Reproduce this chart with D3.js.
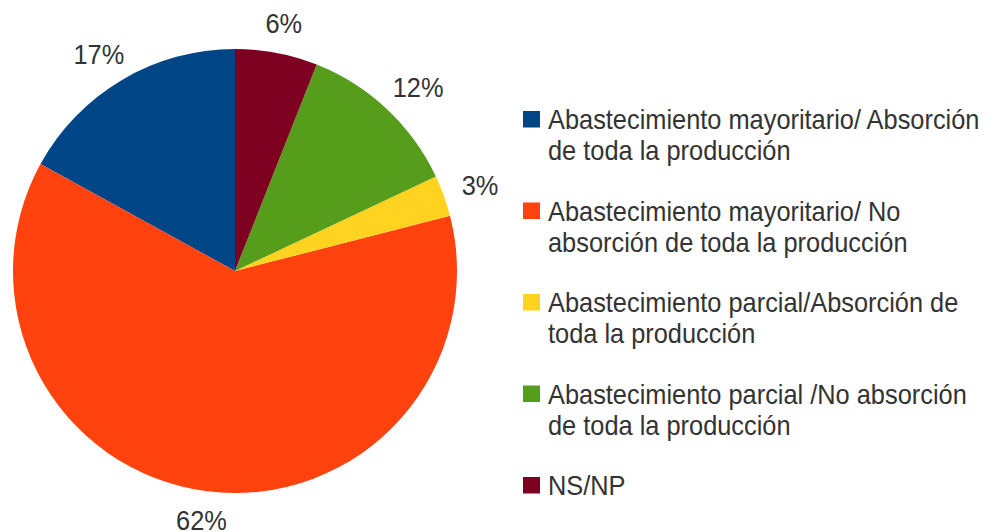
<!DOCTYPE html>
<html><head><meta charset="utf-8">
<script src="https://cdn.jsdelivr.net/npm/d3@7"></script>
<style>body{margin:0;background:#fff}svg{display:block}</style>
</head><body>
<svg id="chart" width="998" height="532"></svg>
<script>
const categories = [
  ["Abastecimiento mayoritario/ Absorción", "de toda la producción"],
  ["Abastecimiento mayoritario/ No", "absorción de toda la producción"],
  ["Abastecimiento parcial/Absorción de", "toda la producción"],
  ["Abastecimiento parcial /No absorción", "de toda la producción"],
  ["NS/NP"]
];
const values = [17, 62, 3, 12, 6];
const labels = ["17%", "62%", "3%", "12%", "6%"];
const colors = ["#004586", "#ff420e", "#ffd320", "#579d1c", "#7e0021"];

const svg = d3.select("#chart");
const cx = 235, cy = 271, R = 222;
const textColor = "#333333";
const font = "'Liberation Sans', Arial, sans-serif";
const fs = 27, sx = 0.94;

// Slices go counterclockwise from 12 o'clock
const pie = d3.pie().sort(null).value(d => d)
  .startAngle(0).endAngle(-2 * Math.PI);
const arcs = pie(values);
const arc = d3.arc().innerRadius(0).outerRadius(R);

const g = svg.append("g").attr("transform", `translate(${cx},${cy})`);
g.selectAll("path").data(arcs).enter().append("path")
  .attr("d", arc)
  .attr("fill", (d, i) => colors[i]);

// Percent labels outside, box pushed away from the pie
const labelArc = d3.arc().innerRadius(R + 20).outerRadius(R + 20);
arcs.forEach((d, i) => {
  const p = labelArc.centroid(d);
  const mid = (d.startAngle + d.endAngle) / 2;
  const lg = g.append("g");
  const t = lg.append("text")
    .attr("text-anchor", "middle")
    .attr("font-family", font)
    .attr("font-size", fs)
    .attr("fill", textColor)
    .text(labels[i]);
  const w = t.node().getComputedTextLength() * sx;
  const h = 0.72 * fs;
  const cxl = p[0] + (w / 2) * Math.sin(mid);
  const cyl = p[1] - (h / 2) * Math.cos(mid);
  lg.attr("transform", `translate(${cxl},${cyl + h / 2}) scale(${sx},1)`);
});

// Legend
const legY = d3.scaleLinear().domain([0, categories.length - 1]).range([111, 477]);
const leg = svg.append("g");
categories.forEach((lines, i) => {
  const y0 = legY(i);
  leg.append("rect").attr("x", 523).attr("y", y0).attr("width", 17).attr("height", 16.5)
    .attr("fill", colors[i]);
  lines.forEach((ln, j) => {
    leg.append("g")
      .attr("transform", `translate(548,${y0 + 18 + j * 31}) scale(${sx},1)`)
      .append("text")
      .attr("font-family", font).attr("font-size", fs)
      .attr("fill", textColor)
      .text(ln);
  });
});
</script>
</body></html>
